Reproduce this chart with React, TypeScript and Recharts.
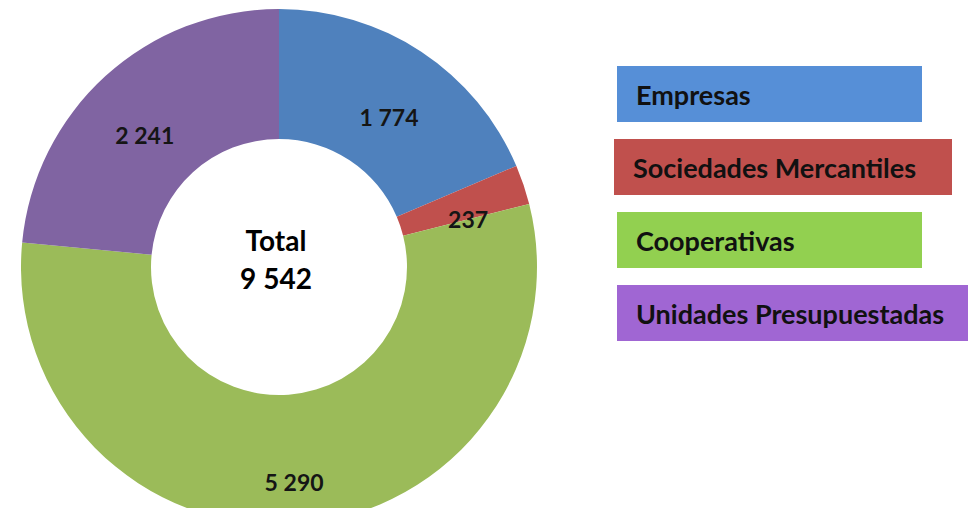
import { PieChart, Pie, Cell, Legend } from 'recharts';

const categories = ['Empresas', 'Sociedades Mercantiles', 'Cooperativas', 'Unidades Presupuestadas'];
const values = [1774, 237, 5290, 2241];
const totalLabel = 'Total';

const sliceColors = ['#4f81bd', '#c0504d', '#9bbb59', '#8064a2'];
const legendColors = ['#568fd7', '#c0504d', '#92d050', '#a066d3'];
const legendWidths = [305, 338, 305, 352];
const legendShift = [0, -3, 0, 0];

const data = categories.map((name, i) => ({ name, value: values[i] }));
const total = values.reduce((a, b) => a + b, 0);

const FONT = 'Lato, "Open Sans", sans-serif';
const RAD = Math.PI / 180;

const fmt = (n: number) => n.toString().replace(/\B(?=(\d{3})+(?!\d))/g, ' ');

const renderLabel = (props: any) => {
  const { cx, cy, midAngle, innerRadius, outerRadius, value } = props;
  const r = innerRadius + (outerRadius - innerRadius) * 0.55;
  const x = cx + r * Math.cos(-midAngle * RAD);
  const y = cy + r * Math.sin(-midAngle * RAD) + 16;
  return (
    <text x={x} y={y} textAnchor='middle' dominantBaseline='central' fill='#151515' fontFamily={FONT} fontWeight={700} fontSize={23}>
      {fmt(value)}
    </text>
  );
};

// legend is drawn as coloured text boxes, in category order
const renderLegend = () => (
  <div>
    {categories.map((name, i) => (
      <div
        key={name}
        style={{
          width: legendWidths[i],
          height: 56,
          marginLeft: legendShift[i],
          marginBottom: 17,
          background: legendColors[i],
          display: 'flex',
          alignItems: 'center',
          paddingLeft: 19,
          boxSizing: 'border-box',
          fontFamily: FONT,
          fontWeight: 700,
          fontSize: 27,
          color: '#111',
          whiteSpace: 'nowrap',
        }}>
        {name}
      </div>
    ))}
  </div>
);

export default function App() {
  return (
    <div style={{ position: 'absolute', left: 0, top: 0, width: 968, height: 508 }}>
      <PieChart width={968} height={508} margin={{ top: 0, right: 0, bottom: 0, left: 0 }}>
        <Pie
          data={data}
          dataKey='value'
          nameKey='name'
          cx={279}
          cy={267}
          innerRadius={128}
          outerRadius={258}
          startAngle={90}
          endAngle={-270}
          stroke='none'
          label={renderLabel}
          labelLine={false}
          isAnimationActive={false}>
          {data.map((d, i) => (
            <Cell key={d.name} fill={sliceColors[i]} />
          ))}
        </Pie>
        <Legend
          layout='vertical'
          align='right'
          verticalAlign='top'
          content={renderLegend}
          wrapperStyle={{ left: 617, top: 66, width: 351 }}
        />
      </PieChart>
      <div
        style={{
          position: 'absolute',
          left: 176,
          top: 221,
          width: 200,
          textAlign: 'center',
          fontFamily: FONT,
          fontWeight: 700,
          fontSize: 28,
          lineHeight: '38px',
          color: '#000',
        }}>
        <div>{totalLabel}</div>
        <div>{fmt(total)}</div>
      </div>
    </div>
  );
}
